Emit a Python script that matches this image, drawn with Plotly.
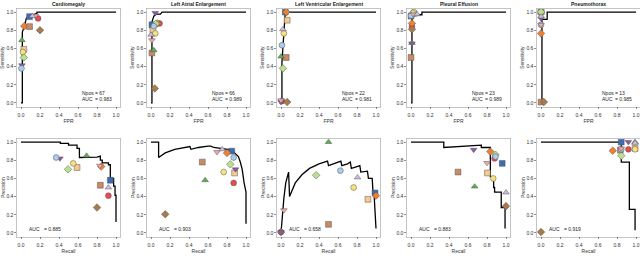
import plotly.graph_objects as go

W, H = 640, 273

titles = ["Cardiomegaly", "Left Atrial Enlargement", "Left Ventricular Enlargement",
          "Pleural Effusion", "Pneumothorax"]
npos = [67, 66, 22, 23, 13]
roc_auc = ["0.983", "0.989", "0.981", "0.989", "0.985"]
pr_auc = ["0.885", "0.903", "0.658", "0.883", "0.919"]
tick_vals = [0.0, 0.2, 0.4, 0.6, 0.8, 1.0]
tick_text = ["0.0", "0.2", "0.4", "0.6", "0.8", "1.0"]

reader_colors = ["#3A6DB5", "#E84A50", "#F08030", "#C98A64", "#A97B4B", "#5FAE50",
                 "#F7C98E", "#F7E27D", "#B9E28E", "#8C5AA8", "#A9CDEA", "#F5A6AA", "#CDBDE0"]
reader_symbols = ["square", "circle", "diamond", "square", "diamond", "triangle-up",
                  "square", "circle", "diamond", "triangle-down", "circle", "triangle-down", "triangle-up"]

# ROC curves
roc_fpr_1 = [0, 0.014, 0.014, 0.035, 0.056, 0.08, 0.116, 0.168, 0.168, 1.0]
roc_tpr_1 = [0, 0, 0.78, 0.84, 0.93, 0.955, 0.967, 0.985, 1.0, 1.0]
roc_fpr_2 = [0, 0.01, 0.01, 0.03, 0.056, 0.10, 0.116, 1.0]
roc_tpr_2 = [0, 0, 0.89, 0.955, 0.978, 0.978, 1.0, 1.0]
roc_fpr_3 = [0, 0.01, 0.01, 0.02, 0.03, 0.04, 0.045, 1.0]
roc_tpr_3 = [0, 0, 0.45, 0.62, 0.82, 0.95, 1.0, 1.0]
roc_fpr_4 = [0, 0.01, 0.01, 0.03, 0.03, 0.115, 0.115, 1.0]
roc_tpr_4 = [0, 0, 0.955, 0.955, 0.97, 0.97, 1.0, 1.0]
roc_fpr_5 = [0, 0.01, 0.01, 0.065, 0.065, 1.0]
roc_tpr_5 = [0, 0, 0.92, 0.92, 1.0, 1.0]

# Reader operating points (ROC)
rd_fpr_1 = [0.09, 0.18, 0.035, 0.09, 0.20, 0.01, 0.03, 0.02, 0.03, 0.01, 0.005, 0.15, 0.12]
rd_tpr_1 = [0.95, 0.93, 0.845, 0.84, 0.80, 0.69, 0.59, 0.56, 0.50, 0.415, 0.38, 0.96, 0.955]
rd_fpr_2 = [0.01, 0.09, 0.065, 0.01, 0.04, 0.03, 0.02, 0.045, 0.05, 0.045, 0.03, 0.01, 0.0]
rd_tpr_2 = [0.86, 0.875, 0.875, 0.55, 0.16, 0.58, 0.80, 0.765, 0.87, 0.99, 0.845, 0.69, 0.75]
rd_fpr_3 = [0.045, 0.01, 0.055, 0.055, 0.065, 0.0, 0.065, 0.03, 0.02, 0.0, 0.01, 0.0, 0.02]
rd_tpr_3 = [1.0, 0.02, 1.0, 0.50, 0.01, 0.51, 0.91, 0.765, 0.38, 0.01, 0.635, 0.03, 0.81]
rd_fpr_4 = [0.0, 0.01, 0.01, 0.0, 0.01, 0.01, 0.03, 0.03, 0.02, 0.01, 0.0, 0.025, 0.065]
rd_tpr_4 = [0.955, 0.84, 0.875, 0.50, 0.81, 0.66, 0.985, 1.0, 0.99, 0.655, 0.96, 0.975, 0.975]
rd_fpr_5 = [0.0, 0.0, 0.0, 0.0, 0.03, 0.0, 0.0, 0.0, 0.0, 0.0, 0.0, 0.0, 0.0]
rd_tpr_5 = [1.0, 1.0, 0.765, 0.01, 0.01, 1.0, 1.0, 1.0, 1.0, 0.93, 0.86, 0.86, 0.95]

# PR curves
pr_rec_1 = [0, 0.414, 0.414, 0.50, 0.50, 0.59, 0.59, 0.615, 0.615, 0.80, 0.835, 0.835, 0.855, 0.855,
            0.92, 0.92, 0.94, 0.94, 0.975, 0.975, 0.99, 0.99, 1.0, 1.0]
pr_prec_1 = [1.0, 1.0, 0.985, 0.985, 0.965, 0.965, 0.93, 0.93, 0.83, 0.835, 0.845, 0.80, 0.80, 0.77,
             0.77, 0.75, 0.75, 0.60, 0.60, 0.515, 0.515, 0.415, 0.415, 0.12]
pr_rec_2 = [0, 0.08, 0.08, 0.15, 0.25, 0.35, 0.41, 0.42, 0.5, 0.6, 0.63, 0.66, 0.75, 0.82, 0.86,
            0.88, 0.9, 0.92, 0.94, 0.96, 0.98, 1.0, 1.0]
pr_prec_2 = [1.0, 1.0, 0.83, 0.88, 0.92, 0.94, 0.95, 0.92, 0.94, 0.955, 0.955, 0.94, 0.93, 0.92,
             0.91, 0.88, 0.86, 0.84, 0.78, 0.70, 0.55, 0.45, 0.10]
pr_rec_3 = [0, 0.01, 0.03, 0.05, 0.08, 0.09, 0.15, 0.22, 0.3, 0.4, 0.49, 0.5, 0.58, 0.63, 0.64,
            0.7, 0.73, 0.74, 0.8, 0.83, 0.84, 0.88, 0.91, 0.92, 0.96, 0.97, 0.98, 1.0]
pr_prec_3 = [0.0, 0.15, 0.38, 0.55, 0.67, 0.40, 0.55, 0.64, 0.71, 0.76, 0.79, 0.74, 0.77, 0.79,
             0.74, 0.76, 0.78, 0.71, 0.73, 0.74, 0.67, 0.68, 0.68, 0.60, 0.60, 0.42, 0.42, 0.05]
pr_rec_4 = [0, 0.345, 0.345, 0.74, 0.74, 0.835, 0.835, 0.87, 0.87, 0.88, 0.88, 0.95, 0.95, 0.99, 0.99]
pr_prec_4 = [1.0, 1.0, 0.94, 0.965, 0.94, 0.94, 0.62, 0.62, 0.50, 0.50, 0.45, 0.45, 0.28, 0.28, 0.05]
pr_rec_5 = [0, 0.845, 0.845, 0.93, 0.93, 0.99, 0.99]
pr_prec_5 = [1.0, 1.0, 0.78, 0.78, 0.26, 0.26, 0.03]

# Reader operating points (PR)
rd_rec_1 = [0.94, 0.92, 0.845, 0.835, 0.80, 0.69, 0.59, 0.55, 0.495, 0.41, 0.37, 0.83, 0.92]
rd_prec_1 = [0.58, 0.41, 0.73, 0.525, 0.28, 0.85, 0.72, 0.765, 0.70, 0.82, 0.83, 0.74, 0.50]
rd_rec_2 = [0.85, 0.87, 0.80, 0.54, 0.15, 0.57, 0.88, 0.765, 0.835, 0.89, 0.87, 0.695, 0.75]
rd_prec_2 = [0.90, 0.55, 0.88, 0.78, 0.205, 0.58, 0.66, 0.67, 0.755, 0.70, 0.83, 0.89, 0.92]
rd_rec_3 = [0.99, 0.0, 1.0, 0.5, 0.0, 0.5, 0.915, 0.765, 0.37, 0.0, 0.625, 0.03, 0.805]
rd_prec_3 = [0.44, 0.01, 0.41, 0.095, 0.01, 1.0, 0.37, 0.50, 0.635, 0.01, 0.685, 0.25, 0.61]
rd_rec_4 = [0.96, 0.88, 0.835, 0.495, 1.0, 0.67, 0.805, 0.865, 0.89, 0.66, 0.89, 0.80, 1.0]
rd_prec_4 = [0.765, 0.82, 0.895, 0.67, 0.295, 0.51, 0.66, 0.60, 0.86, 0.915, 0.84, 0.77, 0.445]
rd_rec_5 = [0.845, 0.92, 0.755, 0.835, 0.0, 0.99, 0.99, 0.99, 0.845, 0.92, 0.845, 0.845, 0.99]
rd_prec_5 = [1.0, 0.92, 0.905, 0.91, 0.01, 1.0, 0.93, 0.92, 0.85, 1.0, 0.92, 0.93, 0.99]

roc_curves = [(roc_fpr_1, roc_tpr_1), (roc_fpr_2, roc_tpr_2), (roc_fpr_3, roc_tpr_3),
              (roc_fpr_4, roc_tpr_4), (roc_fpr_5, roc_tpr_5)]
roc_readers = [(rd_fpr_1, rd_tpr_1), (rd_fpr_2, rd_tpr_2), (rd_fpr_3, rd_tpr_3),
               (rd_fpr_4, rd_tpr_4), (rd_fpr_5, rd_tpr_5)]
pr_curves = [(pr_rec_1, pr_prec_1), (pr_rec_2, pr_prec_2), (pr_rec_3, pr_prec_3),
             (pr_rec_4, pr_prec_4), (pr_rec_5, pr_prec_5)]
pr_readers = [(rd_rec_1, rd_prec_1), (rd_rec_2, rd_prec_2), (rd_rec_3, rd_prec_3),
              (rd_rec_4, rd_prec_4), (rd_rec_5, rd_prec_5)]

fig = go.Figure()
layout = dict(width=W, height=H, margin=dict(l=0, r=0, t=0, b=0, autoexpand=False),
              paper_bgcolor="white", plot_bgcolor="white", showlegend=False,
              font=dict(family="Liberation Sans, Arial, sans-serif", color="#222"))

RNG = [-0.04, 1.04]
row_dom = {0: [1 - 106.6 / H, 1 - 8.4 / H], 1: [1 - 236.6 / H, 1 - 138.4 / H]}
annotations = []
TXT = dict(size=5, color="#222")
AX_TXT = dict(size=5, color="#333")

def axis_common(dom, anchor, title, standoff, label_gap):
    return dict(domain=dom, anchor=anchor, range=RNG, tickvals=tick_vals, ticktext=tick_text,
                showline=True, mirror=True, linecolor="#B5B5B5", linewidth=0.8,
                ticks="outside", ticklen=2, tickwidth=0.6, tickcolor="#444", automargin=False,
                ticklabelstandoff=label_gap,
                tickfont=AX_TXT, showgrid=False, zeroline=False,
                title=dict(text=title, font=AX_TXT, standoff=standoff))

for row in range(2):
    for col in range(5):
        idx = row * 5 + col + 1
        xa = "x" if idx == 1 else f"x{idx}"
        ya = "y" if idx == 1 else f"y{idx}"
        left = 21 + 130 * col - 0.04 * 95
        right = left + 1.08 * 95
        xdom = [left / W, min(right / W, 1.0)]
        layout["xaxis" if idx == 1 else f"xaxis{idx}"] = axis_common(
            xdom, ya, "FPR" if row == 0 else "Recall", 1, 2)
        layout["yaxis" if idx == 1 else f"yaxis{idx}"] = axis_common(
            row_dom[row], xa, "", 1, 0)
        # y-axis title placed as rotated text left of the tick labels
        annotations.append(dict(text="Sensitivity" if row == 0 else "Precision",
                                xref="paper", yref=ya + " domain", x=(left - 14.8) / W, y=0.5,
                                textangle=-90, showarrow=False, xanchor="center", yanchor="middle",
                                font=AX_TXT))

        curve = roc_curves[col] if row == 0 else pr_curves[col]
        readers = roc_readers[col] if row == 0 else pr_readers[col]
        fig.add_trace(go.Scatter(x=curve[0], y=curve[1], mode="lines", xaxis=xa, yaxis=ya,
                                 line=dict(color="black", width=1.3), hoverinfo="skip"))
        for r in range(len(reader_colors)):
            fig.add_trace(go.Scatter(x=[readers[0][r]], y=[readers[1][r]], mode="markers",
                                     xaxis=xa, yaxis=ya,
                                     marker=dict(symbol=reader_symbols[r], color=reader_colors[r],
                                                 size=5.8, line=dict(color="#555", width=0.5))))
        if row == 0:
            annotations.append(dict(text="<b>" + titles[col] + "</b>", xref=xa + " domain", yref="paper",
                                    x=0.5, y=1 - 3.8 / H, showarrow=False, xanchor="center",
                                    yanchor="middle", font=dict(size=5, color="#222")))
            annotations.append(dict(text="Npos", xref=xa, yref=ya, x=0.62, y=0.11, showarrow=False,
                                    xanchor="left", font=TXT))
            annotations.append(dict(text="= " + str(npos[col]), xref=xa, yref=ya, x=0.76, y=0.11,
                                    showarrow=False, xanchor="left", font=TXT))
            annotations.append(dict(text="AUC", xref=xa, yref=ya, x=0.62, y=0.04, showarrow=False,
                                    xanchor="left", font=TXT))
            annotations.append(dict(text="= " + roc_auc[col], xref=xa, yref=ya, x=0.76, y=0.04,
                                    showarrow=False, xanchor="left", font=TXT))
        else:
            annotations.append(dict(text="AUC", xref=xa, yref=ya, x=0.06, y=0.045, showarrow=False,
                                    xanchor="left", font=TXT))
            annotations.append(dict(text="= " + pr_auc[col], xref=xa, yref=ya, x=0.22, y=0.045,
                                    showarrow=False, xanchor="left", font=TXT))

layout["annotations"] = annotations
fig.update_layout(**layout)
fig.write_html("out.html", config={"displayModeBar": False, "staticPlot": True},
               post_script="document.body.style.margin='0';document.body.style.overflow='hidden';")
